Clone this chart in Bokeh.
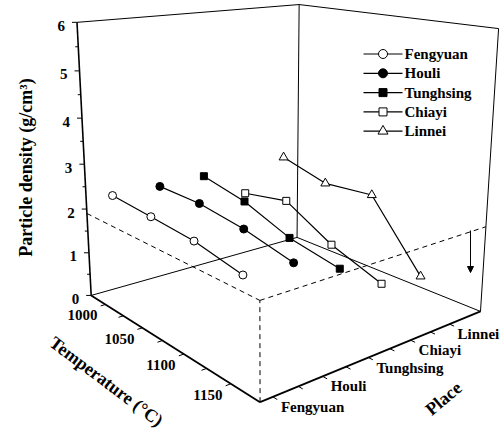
import numpy as np
from bokeh.plotting import figure
from bokeh.models import Range1d, Label, Arrow, NormalHead
from bokeh.embed import file_html
from bokeh.resources import INLINE

# ---- data -------------------------------------------------------------
places = ["Fengyuan", "Houli", "Tunghsing", "Chiayi", "Linnei"]
temperatures = [1000, 1050, 1100, 1150]          # deg C
fengyuan = [2.40, 2.32, 2.23, 2.02]              # g/cm3
houli = [2.38, 2.36, 2.21, 1.96]
tunghsing = [2.40, 2.17, 1.76, 1.55]
chiayi = [1.77, 1.95, 1.34, 0.93]
linnei = [2.45, 2.14, 2.22, 0.79]
series = [fengyuan, houli, tunghsing, chiayi, linnei]

temp_ticks = [1000, 1050, 1100, 1150]
temp_minor = [1025, 1075, 1125]
density_ticks = [0, 1, 2, 3, 4, 5, 6]
reference_level = 1.9                            # dashed plane height

# ---- axis ranges of the 3-D box --------------------------------------
T_MIN, T_MAX = 979.0, 1178.0
P_MIN, P_MAX = 0.755, 5.85
Z_MIN, Z_MAX = 0.0, 6.0

# ---- perspective camera ----------------------------------------------
# unit-box corners and where they land on the page (pixels); a 3x4
# projective matrix is solved from them (DLT).
W, H = 504, 434
SCALE = 500.0
box_unit = [(0, 0, 0), (1, 0, 0), (1, 1, 0), (0, 1, 0), (0, 0, 1), (0, 1, 1), (1, 1, 1)]
box_page = [(90.7, 295), (259.3, 401.7), (480, 310.7), (296.7, 237),
            (76.7, 21.7), (298.3, 4), (498.3, 28.3)]
rows = []
for (X, Y, Z), (u, v) in zip(box_unit, box_page):
    u /= SCALE
    v /= SCALE
    rows.append([X, Y, Z, 1, 0, 0, 0, 0, -u * X, -u * Y, -u * Z, -u])
    rows.append([0, 0, 0, 0, X, Y, Z, 1, -v * X, -v * Y, -v * Z, -v])
_, _, vt = np.linalg.svd(np.array(rows, dtype=float))
CAM = vt[-1].reshape(3, 4)


def proj_unit(u, v, w):
    u, v, w = np.broadcast_arrays(np.asarray(u, float), np.asarray(v, float), np.asarray(w, float))
    hom = CAM @ np.vstack([u.ravel(), v.ravel(), w.ravel(), np.ones(u.size)])
    return hom[0] / hom[2] * SCALE, hom[1] / hom[2] * SCALE


def proj(T, pl, z):
    return proj_unit((np.asarray(T, float) - T_MIN) / (T_MAX - T_MIN),
                     (np.asarray(pl, float) - P_MIN) / (P_MAX - P_MIN),
                     (np.asarray(z, float) - Z_MIN) / (Z_MAX - Z_MIN))


p = figure(width=W, height=H, x_range=Range1d(0, W), y_range=Range1d(H, 0),
           output_backend="svg", toolbar_location=None,
           x_axis_location=None, y_axis_location=None, min_border=0)
p.grid.visible = False
p.outline_line_color = None
p.background_fill_color = "white"

FONT_NAME = "Liberation Serif"


def put_text(x, y, text, align="center", size=15, angle=0.0):
    # page space is in pixels with y pointing down
    p.add_layout(Label(x=float(x), y=float(y), text=text, angle=angle,
                       text_align=align, text_baseline="middle", text_font=FONT_NAME,
                       text_font_style="bold", text_font_size="%dpx" % size,
                       text_color="black"))


def edge(a, b, width=1.0, dash="solid"):
    xs, ys = proj_unit([a[0], b[0]], [a[1], b[1]], [a[2], b[2]])
    p.line(xs, ys, line_color="black", line_width=width, line_dash=dash)


# back walls
edge((0, 0, 0), (0, 1, 0))
edge((0, 1, 0), (1, 1, 0))
edge((0, 1, 0), (0, 1, 1))
edge((1, 1, 0), (1, 1, 1))
edge((0, 0, 1), (0, 1, 1))
edge((0, 1, 1), (1, 1, 1))
# axes
edge((0, 0, 0), (0, 0, 1), width=1.6)
edge((0, 0, 0), (1, 0, 0), width=1.8)
edge((1, 0, 0), (1, 1, 0), width=1.8)
# dashed reference plane
h = reference_level / (Z_MAX - Z_MIN)
edge((0, 0, h), (1, 0, h), dash="5 4")
edge((1, 0, h), (1, 1, h), dash="5 4")
edge((1, 0, 0), (1, 0, h), dash="5 4")

# density axis ticks and labels
zt = np.arange(0, 6.01, 0.5)
zx, zy = proj(T_MIN, P_MIN, zt)
major = np.isclose(zt % 1, 0)
p.segment(zx, zy, zx - np.where(major, 5, 3), zy, line_color="black", line_width=1)
lx, ly = proj(T_MIN, P_MIN, density_ticks)
for x, y, v in zip(lx, ly, density_ticks):
    put_text(x - 12, y + 3.5, str(v), align="right")

# temperature axis ticks and labels
tt = np.array(temp_ticks + temp_minor, float)
tx0, ty0 = proj(tt, P_MIN, 0)
tx1, ty1 = proj(tt, P_MIN - 0.1, 0)
p.segment(tx0, ty0, tx1, ty1, line_color="black", line_width=1)
lx, ly = proj(temp_ticks, P_MIN, 0)
for x, y, v in zip(lx, ly, temp_ticks):
    put_text(x - 23, y + 11, str(v))

# place axis ticks and labels
place_pos = np.arange(1, len(places) + 1, dtype=float)
pt = np.arange(1, len(places) + 0.01, 0.5)
px0, py0 = proj(T_MAX, pt, 0)
px1, py1 = proj(T_MAX + 4, pt, 0)
p.segment(px0, py0, px1, py1, line_color="black", line_width=1)
lx, ly = proj(T_MAX, place_pos, 0)
for x, y, name in zip(lx, ly, places):
    put_text(x + 8, y + 10, name, align="left")

# axis titles
put_text(25, 167, "Particle density (g/cm³)", size=18, angle=np.pi / 2)
put_text(106, 381, "Temperature (°C)", size=18, angle=-np.radians(37))
put_text(443, 398, "Place", size=18, angle=np.radians(40))

# data series
styles = [("circle", "white", 8), ("circle", "black", 8), ("square", "black", 7),
          ("square", "white", 7), ("triangle", "white", 9)]
for k, (vals, (mk, fill, size)) in enumerate(zip(series, styles)):
    sx, sy = proj(temperatures, place_pos[k], vals)
    p.line(sx, sy, line_color="black", line_width=1.2)
    p.scatter(sx, sy, marker=mk, size=size, fill_color=fill, line_color="black", line_width=1)

# legend
LEG_X, LEG_Y, LEG_STEP = 363, 53.5, 19.3
for k, (name, (mk, fill, size)) in enumerate(zip(places, styles)):
    y = LEG_Y + k * LEG_STEP
    p.line([LEG_X, LEG_X + 39], [y, y], line_color="black", line_width=1.2)
    p.scatter([LEG_X + 19.5], [y], marker=mk, size=size + 1, fill_color=fill,
              line_color="black", line_width=1)
    put_text(LEG_X + 41, y, name, align="left")

# arrow marker on the right wall
p.add_layout(Arrow(x_start=470, y_start=230, x_end=470, y_end=272, line_width=1,
                   end=NormalHead(size=6, fill_color="black", line_width=1)))

open("out.html", "w").write(file_html(p, INLINE))
